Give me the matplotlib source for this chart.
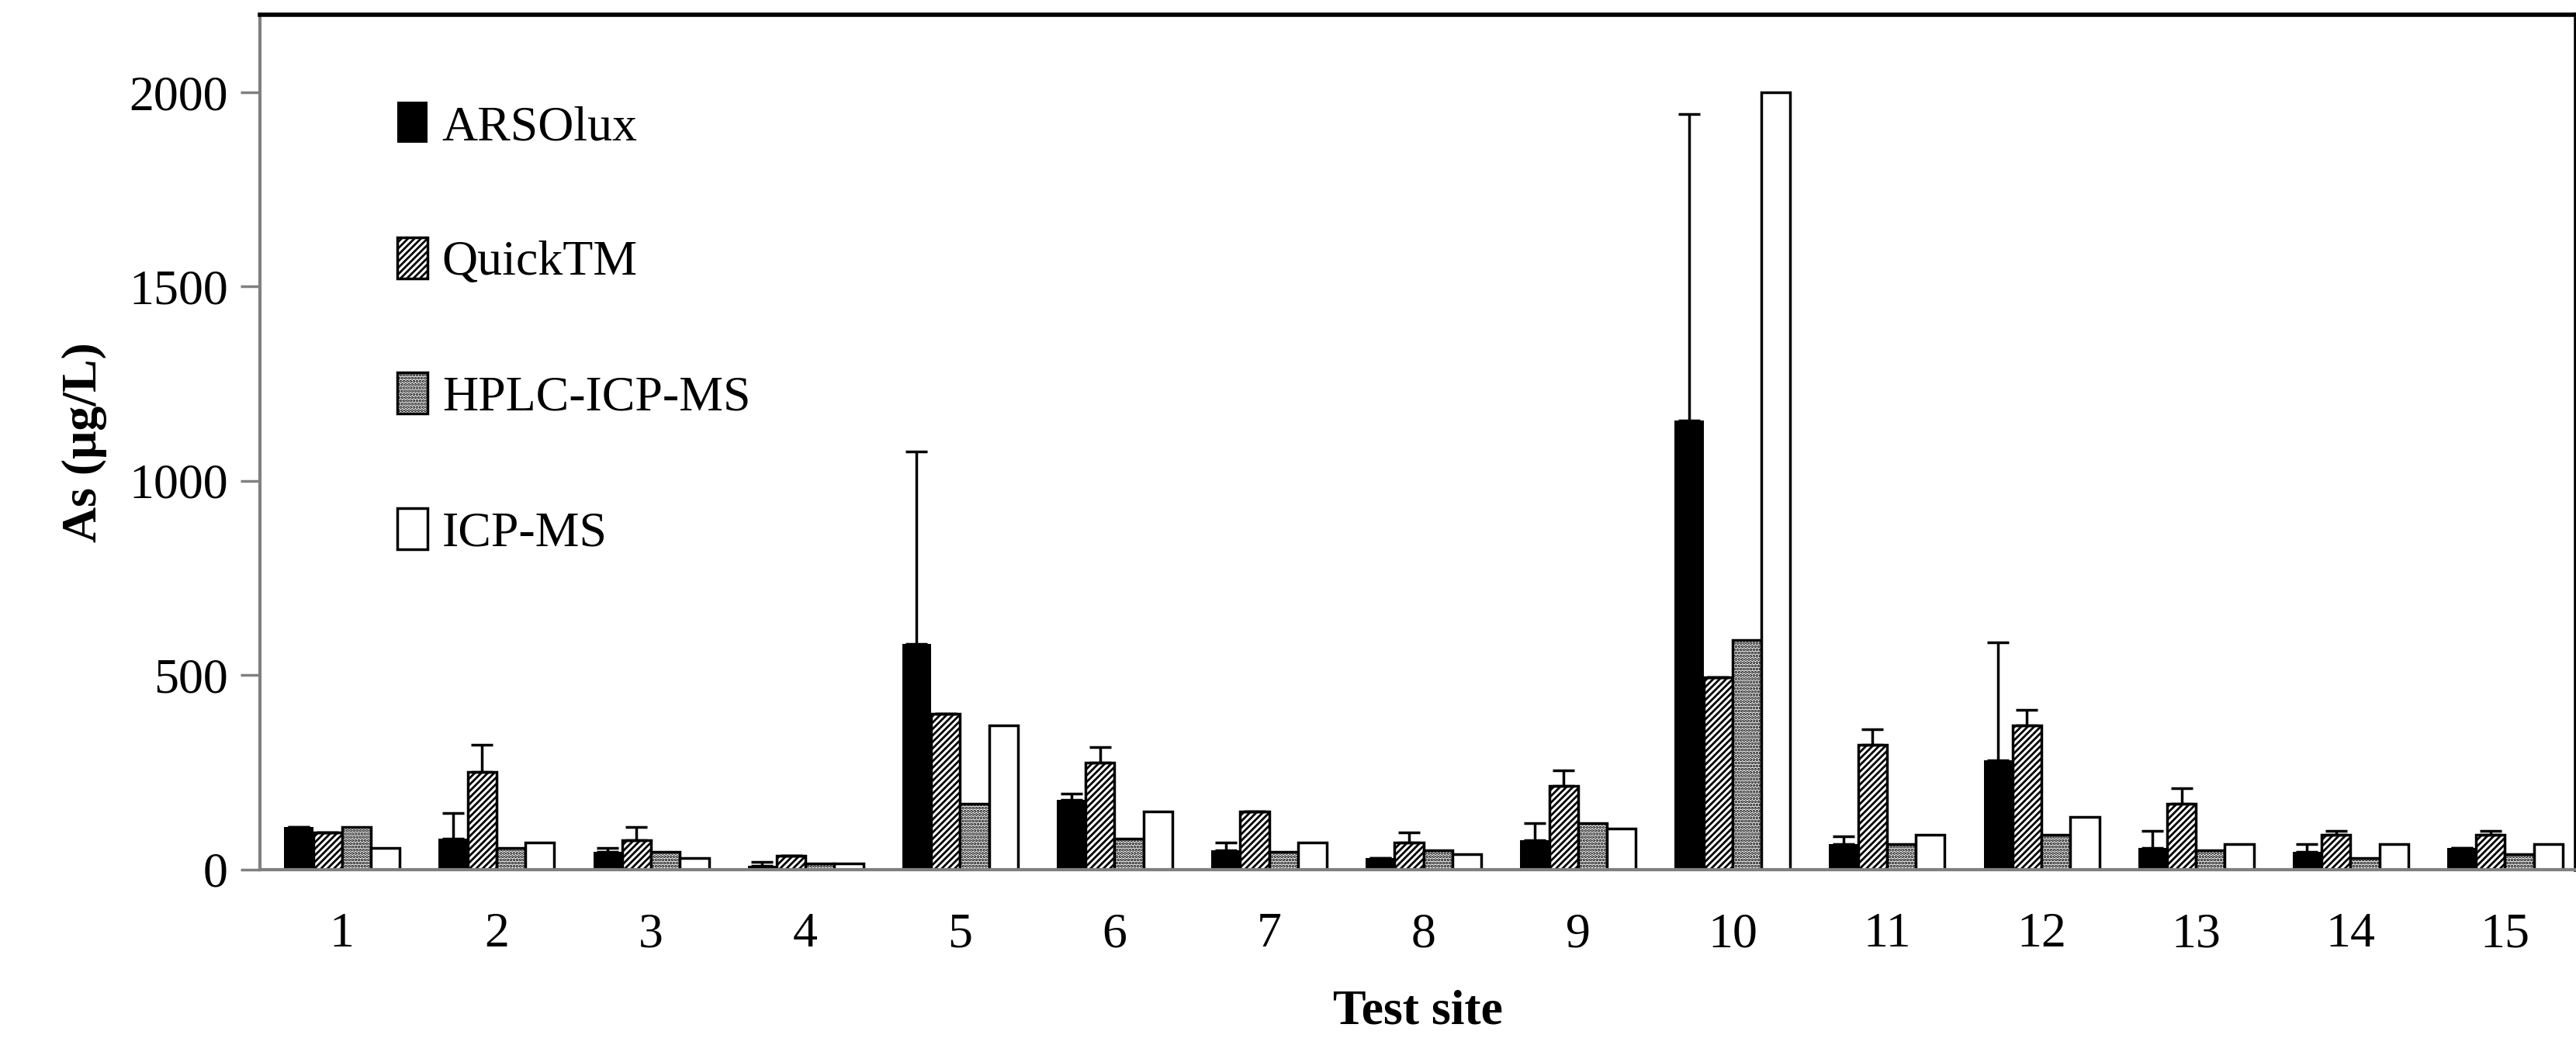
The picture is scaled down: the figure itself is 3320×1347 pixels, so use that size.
import numpy as np
import matplotlib
matplotlib.use("Agg")
import matplotlib.pyplot as plt

plt.rcParams.update({"font.family": ["Liberation Serif", "DejaVu Serif"],
                     "hatch.linewidth": 2.0})

sites = [str(i) for i in range(1, 16)]
series = ["ARSOlux", "QuickTM", "HPLC-ICP-MS", "ICP-MS"]
arsolux = [110, 80, 45, 10, 580, 180, 50, 30, 75, 1155, 65, 280, 55, 45, 55]
arsolux_err = [0, 65, 10, 10, 495, 15, 20, 0, 45, 790, 20, 305, 45, 20, 0]
quick = [95, 250, 75, 35, 400, 275, 150, 70, 215, 495, 320, 370, 170, 90, 90]
quick_err = [0, 70, 35, 0, 0, 40, 0, 25, 40, 0, 40, 40, 40, 10, 10]
hplc = [110, 55, 45, 15, 170, 80, 45, 50, 120, 590, 65, 90, 50, 30, 40]
icpms = [55, 70, 30, 15, 370, 150, 70, 40, 105, 2000, 90, 135, 65, 65, 65]

fig = plt.figure(figsize=(33.2, 13.47), dpi=100)
ax = fig.add_axes([0.101, 0.168, 0.899, 0.818])

x = np.arange(1, 16)
w = 0.187
vals = [arsolux, quick, hplc, icpms]
errs = [arsolux_err, quick_err, None, None]
styles = [dict(color="black"),
          dict(facecolor="white", edgecolor="black", hatch="////"),
          dict(facecolor="white", edgecolor="black", hatch="...."),
          dict(facecolor="white", edgecolor="black")]
for i, (v, e, st, lab) in enumerate(zip(vals, errs, styles, series)):
    pos = x + (i - 1.5) * w
    ax.bar(pos, v, w, label=lab, linewidth=2.5, **st)
    if e is not None:
        ax.errorbar(pos, v, yerr=[np.zeros(15), e], fmt="none", ecolor="black",
                    elinewidth=2.5, capsize=10, capthick=2.5)

ax.set_xlim(0.47, 15.46)
ax.set_ylim(0, 2200)
ax.set_xticks(x)
ax.set_xticklabels(sites)
ax.set_yticks([0, 500, 1000, 1500, 2000])
ax.tick_params(axis="both", labelsize=46, length=0, pad=40)
ax.tick_params(axis="y", length=18, width=2.5, color="gray", pad=12)
for s in ("left", "bottom"):
    ax.spines[s].set_color("gray")
    ax.spines[s].set_linewidth(3)
for s in ("top", "right"):
    ax.spines[s].set_color("black")
    ax.spines[s].set_linewidth(4)

ax.set_xlabel("Test site", fontsize=46, fontweight="bold", labelpad=30)
ax.set_ylabel("As (\u03bcg/L)", fontsize=46, fontweight="bold", labelpad=20)

ax.legend(loc="upper left", bbox_to_anchor=(0.04, 0.95), frameon=False,
          fontsize=46, labelspacing=1.75, handlelength=0.6, handleheight=0.9,
          handletextpad=0.3)

fig.savefig("out.png", dpi=100)
